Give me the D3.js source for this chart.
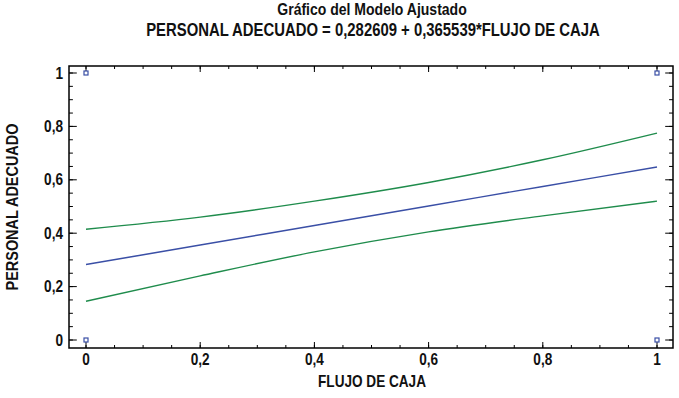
<!DOCTYPE html>
<html>
<head>
<meta charset="utf-8">
<script src="https://cdn.jsdelivr.net/npm/d3@7"></script>
<style>
  body { margin: 0; background: #fff; }
  text { font-family: "Liberation Sans", Arial, sans-serif; font-weight: bold; fill: #111; }
</style>
</head>
<body>
<script>
// fitted model and bands
var xs = [0, 0.2, 0.4, 0.6, 0.8, 1];
var fitted = [0.282609, 0.355717, 0.428825, 0.501932, 0.575040, 0.648148];
var upper = [0.415, 0.46, 0.52, 0.59, 0.675, 0.775];
var lower = [0.145, 0.24, 0.33, 0.405, 0.465, 0.52];
var obsX = [0, 0, 1, 1];
var obsY = [1, 0, 1, 0];
var xTicks = [0, 0.2, 0.4, 0.6, 0.8, 1];
var yTicks = [0, 0.2, 0.4, 0.6, 0.8, 1];

var W = 679, H = 398;
var frame = {left: 69, right: 673, top: 66, bottom: 348};
var narrow = 0.85; // fake the narrow font

var svg = d3.select("body").append("svg")
    .attr("width", W)
    .attr("height", H);

var x = d3.scaleLinear().domain([0, 1]).range([86, 657]);
var y = d3.scaleLinear().domain([0, 1]).range([340, 73]);
var fmt = function(d) { return String(d).replace(".", ","); };

// frame
svg.append("rect")
    .attr("x", frame.left).attr("y", frame.top)
    .attr("width", frame.right - frame.left)
    .attr("height", frame.bottom - frame.top)
    .attr("fill", "none")
    .attr("stroke", "#000")
    .attr("stroke-width", 1.5);

var minor = d3.range(0, 1.0001, 0.05);

// ticks, all pointing into the plot
function addTicks(vals, len, cls) {
    svg.selectAll("." + cls + "x").data(vals).enter().append("line")
        .attr("x1", function(d) { return x(d); }).attr("x2", function(d) { return x(d); })
        .attr("y1", frame.bottom).attr("y2", frame.bottom - len)
        .attr("stroke", "#000");
    svg.selectAll("." + cls + "xt").data(vals).enter().append("line")
        .attr("x1", function(d) { return x(d); }).attr("x2", function(d) { return x(d); })
        .attr("y1", frame.top).attr("y2", frame.top + len)
        .attr("stroke", "#000");
    svg.selectAll("." + cls + "y").data(vals).enter().append("line")
        .attr("y1", function(d) { return y(d); }).attr("y2", function(d) { return y(d); })
        .attr("x1", frame.left).attr("x2", frame.left + len * 1.3)
        .attr("stroke", "#000");
    svg.selectAll("." + cls + "yr").data(vals).enter().append("line")
        .attr("y1", function(d) { return y(d); }).attr("y2", function(d) { return y(d); })
        .attr("x1", frame.right).attr("x2", frame.right - len * 1.3)
        .attr("stroke", "#000");
}
addTicks(minor, 3, "mn");
addTicks(xTicks, 6, "mj");

function label(tx, ty, str, anchor, size, rot) {
    svg.append("text")
        .attr("transform", "translate(" + tx + "," + ty + ")" + (rot ? " rotate(" + rot + ")" : "") + " scale(" + narrow + ",1)")
        .attr("text-anchor", anchor)
        .attr("font-size", size)
        .text(str);
}

// tick labels
xTicks.forEach(function(d) { label(x(d), 365, fmt(d), "middle", 16); });
yTicks.forEach(function(d) { label(63, y(d) + 5.5, fmt(d), "end", 16); });

// axis titles
label(372, 387, "FLUJO DE CAJA", "middle", 16);
label(18, 207, "PERSONAL ADECUADO", "middle", 17, -90);

// titles
label(372, 15, "Gráfico del Modelo Ajustado", "middle", 16.5);
label(373, 36, "PERSONAL ADECUADO = 0,282609 + 0,365539*FLUJO DE CAJA", "middle", 17.5);

// lines
var line = d3.line()
    .x(function(d) { return x(d[0]); })
    .y(function(d) { return y(d[1]); })
    .curve(d3.curveMonotoneX);

function draw(vals, color) {
    svg.append("path")
        .attr("d", line(xs.map(function(v, i) { return [v, vals[i]]; })))
        .attr("fill", "none")
        .attr("stroke", color)
        .attr("stroke-width", 1.4);
}
draw(upper, "#1f8c4c");
draw(lower, "#1f8c4c");
draw(fitted, "#3a4fa6");

// observed points
svg.selectAll(".pt").data(obsX).enter().append("rect")
    .attr("x", function(d) { return x(d) - 2; })
    .attr("y", function(d, i) { return y(obsY[i]) - 2; })
    .attr("width", 4).attr("height", 4)
    .attr("fill", "#fff")
    .attr("stroke", "#3a4fa6")
    .attr("stroke-width", 1.2);
</script>
</body>
</html>
